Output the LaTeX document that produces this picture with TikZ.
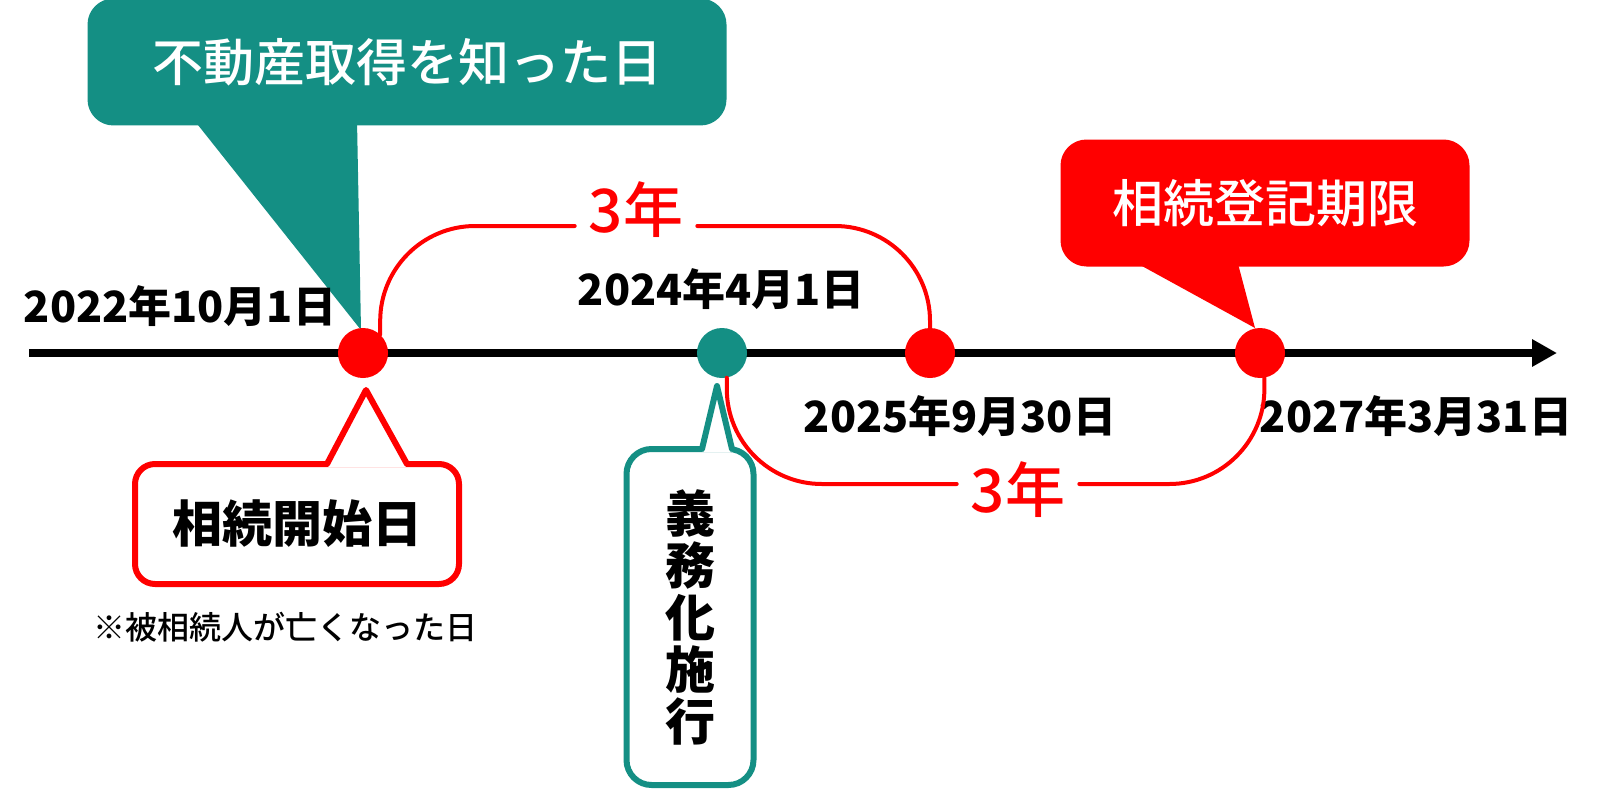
\documentclass[tikz,border=0pt]{standalone}
\usepackage{fontspec}
\setmainfont{Noto Sans CJK JP}
\newfontfamily\medfont{Noto Sans CJK JP Medium}
\usetikzlibrary{arrows.meta}
\definecolor{kteal}{RGB}{20,143,132}
\begin{document}
\begin{tikzpicture}[x=1pt, y=-1pt, line join=round, line cap=round,
  dot/.style={circle, inner sep=0pt, minimum size=50pt},
  datelbl/.style={font=\bfseries\fontsize{43}{43}\selectfont, anchor=base, inner sep=0pt},
  yrlbl/.style={font=\medfont\fontsize{60}{60}\selectfont, text=red, inner xsep=14pt},
  span/.style={red, line width=4pt, rounded corners=95pt},
  bigbox/.style={rounded corners=26pt, inner sep=0pt, text=white, font=\medfont\fontsize{51}{51}\selectfont},
  outbox/.style={line width=6pt, fill=white, inner sep=0pt, font=\bfseries\fontsize{50}{52}\selectfont}]
\useasboundingbox (0,0) rectangle (1600,789);
% callouts above the line
\fill[kteal] (194,120) -- (361,330) -- (357,120) -- cycle;
\node[bigbox, fill=kteal, minimum width=639pt, minimum height=127pt] (know) at (407,62) {不動産取得を知った日};
\fill[red] (1131,260) -- (1255,328) -- (1237,260) -- cycle;
\node[bigbox, fill=red, minimum width=409pt, minimum height=127pt] (limit) at (1265,203) {相続登記期限};
% time line
\coordinate (axL) at (29,353);
\coordinate (axR) at (1557,353);
\draw[line width=8pt, line cap=butt, -{Triangle[length=25pt,width=26pt]}] (axL) -- (axR);
\foreach \n/\x/\c in {d2022/363/red, d2024/722/kteal, d2025/930/red, d2027/1260/red}
  \node[dot, fill=\c] (\n) at (\x,353) {};
\node[datelbl] (t2022) at (180,322) {2022年10月1日};
\node[datelbl] (t2024) at (721,305) {2024年4月1日};
\node[datelbl] (t2025) at (960,432) {2025年9月30日};
\node[datelbl] (t2027) at (1416,432) {2027年3月31日};
% 3 year spans
\node[yrlbl] (yr1) at (636,210) {3年};
\node[yrlbl] (yr2) at (1018,490) {3年};
\draw[span] (d2022.47) |- (yr1.west |- 0,226);
\draw[span] (yr1.east |- 0,226) -| (d2025.north);
\draw[span] (d2024.-79) |- (yr2.west |- 0,484);
\draw[span] (yr2.east |- 0,484) -| (d2027.-80);
% callouts below the line
\node[outbox, draw=red, rounded corners=20pt, minimum width=324pt, minimum height=120pt] (start) at (297,524) {相続開始日};
\fill[white] (327,467) -- (366,390) -- (407,467) -- cycle;
\draw[red, line width=6pt] (327,464) -- (366,390) -- (407,464);
\node[font=\medfont\fontsize{32}{32}\selectfont] (note) at (285,627) {※被相続人が亡くなった日};
\node[outbox, draw=kteal, rounded corners=25pt, minimum width=127pt, minimum height=336pt, align=center] (enforce) at (690,617) {義\\務\\化\\施\\行};
\fill[white] (702,452) -- (717,386) -- (732,452) -- cycle;
\draw[kteal, line width=6pt] (702,449) -- (717,386) -- (732,449);
\end{tikzpicture}
\end{document}
